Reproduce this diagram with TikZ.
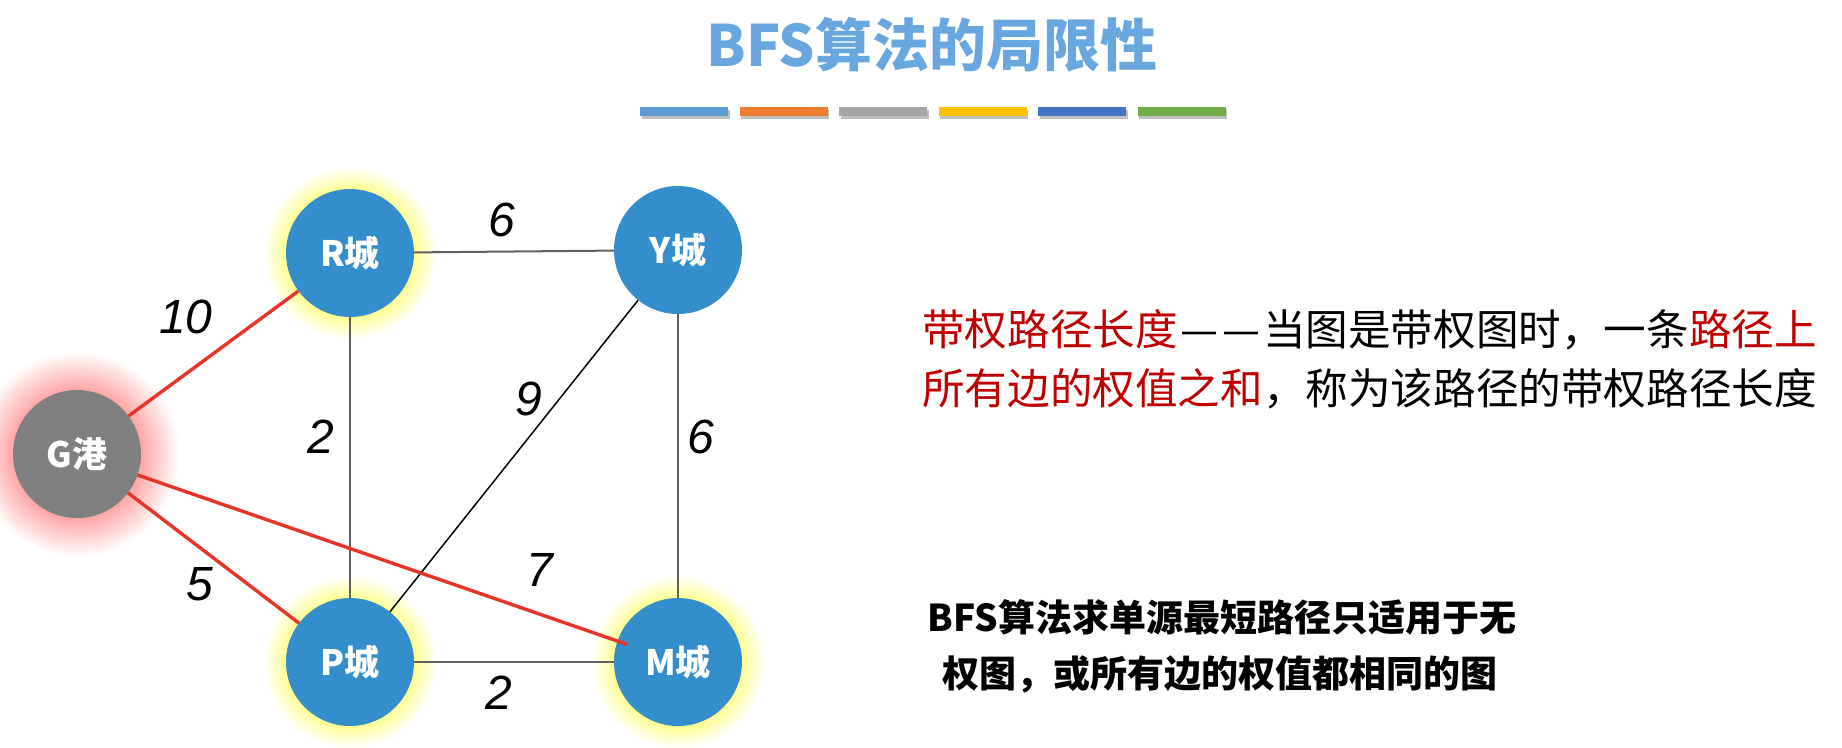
\documentclass[tikz,border=0pt]{standalone}
\usepackage{fontspec}
\usepackage{graphicx}
\setmainfont{Noto Sans CJK SC}
\newfontfamily\numfont{Liberation Sans}
\definecolor{nodeblue}{RGB}{52,142,204}
\definecolor{nodegray}{RGB}{128,128,128}
\definecolor{edgered}{RGB}{232,52,40}
\definecolor{edgegray}{RGB}{95,95,95}
\definecolor{txtred}{RGB}{192,0,0}
\definecolor{titleblue}{RGB}{104,166,224}
\definecolor{glowyellow}{RGB}{255,255,140}
\definecolor{glowred}{RGB}{255,165,165}
\definecolor{barA}{RGB}{91,155,213}
\definecolor{barB}{RGB}{237,125,49}
\definecolor{barC}{RGB}{165,165,165}
\definecolor{barD}{RGB}{255,192,0}
\definecolor{barE}{RGB}{68,114,196}
\definecolor{barF}{RGB}{112,173,71}
\pgfdeclareradialshading{yglow}{\pgfpoint{0bp}{0bp}}{color(0bp)=(glowyellow); color(18bp)=(glowyellow); color(25bp)=(white); color(50bp)=(white)}
\pgfdeclareradialshading{rglow}{\pgfpoint{0bp}{0bp}}{color(0bp)=(glowred); color(15.5bp)=(glowred); color(25bp)=(white); color(50bp)=(white)}
\newcommand\dashpair{\makebox[1em][c]{—}\makebox[1em][c]{—}}
\begin{document}
\begin{tikzpicture}[x=1pt,y=-1pt,
  city/.style={circle, fill=nodeblue, minimum size=128pt, inner sep=0pt, text=white,
    font=\bfseries\fontsize{35}{35}\selectfont},
  port/.style={city, fill=nodegray},
  wlabel/.style={font=\numfont\itshape\fontsize{48}{48}\selectfont, inner sep=0pt},
  grayedge/.style={draw=edgegray, line width=2pt},
  blackedge/.style={draw=black, line width=1.5pt},
  rededge/.style={draw=edgered, line width=3.4pt},
  colbar/.style={inner sep=0pt, minimum width=88pt, minimum height=9pt},
  desc/.style={anchor=base west, inner sep=0pt, font=\fontsize{42.6}{42.6}\selectfont},
  note/.style={anchor=base, inner sep=0pt, font=\bfseries\fontsize{37}{37}\selectfont}
]
\useasboundingbox (0,0) rectangle (1842,747);
\fill[white] (0,0) rectangle (1842,747);

% title
\node[font=\bfseries\fontsize{57}{57}\selectfont, text=titleblue, inner sep=0pt] (title) at (932,45) {BFS算法的局限性};

% colour bars
\foreach \i/\c in {0/barA,1/barB,2/barC,3/barD,4/barE,5/barF}{
  \fill[black, opacity=0.25] ({684+99.5*\i-44+1.5},{107+2.5}) rectangle ++(88,9);
  \node[colbar, fill=\c] (bar\i) at ({684+99.5*\i},111.5) {};
}

% glows
\foreach \cx/\cy in {350/253, 350/662, 678/662}{
  \shade[shading=yglow] (\cx,\cy) circle[radius=87pt];
}
\shade[shading=rglow] (77,454) circle[radius=103pt];

% nodes
\node[city] (R) at (350,253) {R城};
\node[city] (Y) at (678,250) {Y城};
\node[port] (G) at (77,454) {G港};
\node[city] (P) at (350,662) {P城};
\node[city] (M) at (678,662) {M城};

% edges
\draw[grayedge] (R) -- (Y);
\draw[grayedge] (R) -- (P);
\draw[grayedge] (Y) -- (M);
\draw[grayedge] (P) -- (M);
\draw[blackedge] (Y) -- (P);
\draw[rededge] (G) -- (R);
\draw[rededge] (G) -- (P);
\draw[rededge, shorten >=54pt] (G) -- (M.center);

% weights
\node[wlabel] (w6a) at (502,220) {6};
\node[wlabel] (w10) at (186,317) {10};
\node[wlabel] (w2a) at (321,437) {2};
\node[wlabel] (w9) at (529,399) {9};
\node[wlabel] (w6b) at (701,437) {6};
\node[wlabel] (w5) at (200,584) {5};
\node[wlabel] (w7) at (540,570) {7};
\node[wlabel] (w2b) at (499,693) {2};

% description
\node[desc] (d1) at (922,345) {\textcolor{txtred}{带权路径长度}\dashpair 当图是带权图时，一条\textcolor{txtred}{路径上}};
\node[desc] (d2) at (922,404) {\textcolor{txtred}{所有边的权值之和}，称为该路径的带权路径长度};

% note
\node[note] (n1) at (1222,631) {BFS算法求单源最短路径只适用于无};
\node[note] (n2) at (1220,687) {权图，或所有边的权值都相同的图};
\end{tikzpicture}
\end{document}
